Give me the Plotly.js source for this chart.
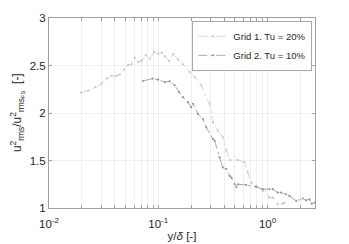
<!DOCTYPE html>
<html><head><meta charset="utf-8">
<script src="https://cdn.plot.ly/plotly-3.0.1.min.js"></script>
<style>html,body{margin:0;padding:0;background:#fff}</style>
</head><body><div id="chart" style="width:349px;height:244px"></div>
<script>
const grid1X = [0.0196,0.0229,0.0267,0.0303,0.0336,0.0374,0.0415,0.0445,0.0487,0.053,0.0569,0.061,0.0654,0.0703,0.0769,0.0836,0.0916,0.0996,0.108,0.1147,0.1256,0.1377,0.1517,0.1683,0.194,0.215,0.248,0.295,0.316,0.351,0.39,0.42,0.45,0.536,0.617,0.66,0.709,0.788,0.906,0.94,1.04,1.12,1.24,1.38,1.43];
const grid1Y = [2.214,2.238,2.273,2.309,2.362,2.39,2.39,2.404,2.457,2.503,2.513,2.584,2.538,2.548,2.608,2.573,2.643,2.626,2.633,2.598,2.548,2.619,2.563,2.513,2.432,2.379,2.291,2.097,1.903,1.815,1.744,1.603,1.505,1.505,1.48,1.374,1.268,1.233,1.18,1.198,1.11,1.109,1.039,1.046,1.056];
const grid2X = [0.0726,0.0885,0.0996,0.1147,0.127,0.1415,0.155,0.168,0.187,0.2,0.208,0.231,0.256,0.275,0.316,0.328,0.364,0.39,0.42,0.45,0.467,0.5,0.518,0.54,0.638,0.788,0.906,1.04,1.12,1.24,1.33,1.48,1.59,1.83,2.1,2.25,2.42,2.54,2.73];
const grid2Y = [2.337,2.362,2.351,2.326,2.333,2.291,2.22,2.167,2.114,2.061,2.097,1.99,1.939,1.85,1.727,1.709,1.532,1.427,1.41,1.339,1.32,1.25,1.222,1.25,1.243,1.222,1.198,1.198,1.198,1.162,1.162,1.145,1.127,1.074,1.1,1.081,1.092,1.046,1.056];
const seriesNames = ['Grid 1. Tu = 20%','Grid 2. Tu = 10%'];
const decades = [0.01,0.1,1];
const decadeLabels = ['10<sup>-2</sup>','10<sup>-1</sup>','10<sup>0</sup>'];
const yTicks = [1,1.5,2,2.5,3];
const yTickLabels = ['1','1.5','2','2.5','3'];

const tv=[], tt=[];
decades.forEach((d,i)=>{ for(let m=1;m<=9;m++){ const v=d*m; if(v<=2.8){tv.push(v); tt.push(m===1?decadeLabels[i]:'');} } });

const traces = [
 {x:grid1X,y:grid1Y,name:seriesNames[0],mode:'lines+markers',line:{color:'#d2d2d2',width:0.9,dash:'dashdot'},marker:{size:2.2,color:'#c6c6c6'}},
 {x:grid2X,y:grid2Y,name:seriesNames[1],mode:'lines+markers',line:{color:'#a2a2a2',width:0.9,dash:'dashdot'},marker:{size:2.2,color:'#949494'}}
];
const layout = {
 width:349,height:244,margin:{l:49,r:34,t:18,b:36},
 paper_bgcolor:'#fff',plot_bgcolor:'#fff',
 font:{family:'Liberation Sans, Arial, sans-serif',size:11,color:'#262626'},
 showlegend:true,
 legend:{x:0.99,y:0.985,xanchor:'right',yanchor:'top',bgcolor:'#fff',bordercolor:'#a8a8a8',borderwidth:1,font:{size:9.5,color:'#262626'},tracegroupgap:0,itemwidth:30},
 xaxis:{type:'log',range:[-2,Math.log10(2.72)],tickmode:'array',tickvals:tv,ticktext:tt,ticks:'inside',ticklen:3,tickcolor:'#a0a0a0',
   showline:true,linecolor:'#a0a0a0',linewidth:1,mirror:'allticks',showgrid:true,gridcolor:'#efefef',gridwidth:1,zeroline:false,
   tickfont:{size:11.5,color:'#262626'},ticklabelstandoff:5,
   title:{text:'y/<i>δ</i> [-]',font:{size:11.5,color:'#262626'},standoff:3}},
 yaxis:{range:[1,3],tickmode:'array',tickvals:yTicks,ticktext:yTickLabels,ticks:'inside',ticklen:3,tickcolor:'#a0a0a0',
   showline:true,linecolor:'#a0a0a0',linewidth:1,mirror:'allticks',showgrid:true,gridcolor:'#efefef',zeroline:false,
   tickfont:{size:11.5,color:'#262626'},ticklabelstandoff:0},
 annotations:[{xref:'paper',yref:'paper',x:-0.12,y:0.5,xanchor:'center',yanchor:'middle',textangle:-90,showarrow:false,
   text:'u<sup>2</sup><sub>rms</sub>/u<sup>2</sup><sub>rms<sub>FS</sub></sub>  [-]',font:{size:12,color:'#262626'}}]
};
Plotly.newPlot('chart',traces,layout,{staticPlot:true,displayModeBar:false});
</script></body></html>
